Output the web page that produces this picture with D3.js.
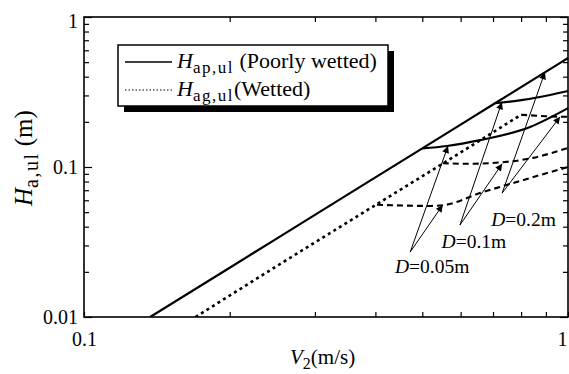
<!DOCTYPE html>
<html><head><meta charset="utf-8">
<script src="https://cdn.jsdelivr.net/npm/d3@7"></script>
<style>
body{margin:0;background:#fff;}
svg{display:block;}
text{font-family:"Liberation Serif","Times New Roman",serif;fill:#000;}
</style></head>
<body>
<svg id="chart" width="569" height="374"></svg>
<script>
// ---- data ----
const xTickValues = [0.1, 1];
const xTickLabels = ["0.1", "1"];
const yTickValues = [0.01, 0.1, 1];
const yTickLabels = ["0.01", "0.1", "1"];

// H_ap,ul main (poorly wetted)
const V_poor = [0.137, 0.2, 0.3, 0.5, 0.7, 1.0];
const H_poor = [0.01, 0.0213, 0.048, 0.133, 0.261, 0.533];
// H_ag,ul main (wetted)
const V_wet = [0.17, 0.25, 0.4, 0.55, 0.8];
const H_wet = [0.01, 0.0218, 0.0557, 0.105, 0.223];
// poorly wetted branches
const V_p005 = [0.5, 0.562, 0.658, 0.835, 1.0];
const H_p005 = [0.133, 0.138, 0.151, 0.185, 0.247];
const V_p01 = [0.706, 0.807, 0.918, 1.0];
const H_p01 = [0.266, 0.28, 0.302, 0.321];
// wetted branches
const V_w005 = [0.403, 0.52, 0.56, 0.658, 0.81, 1.0];
const H_w005 = [0.056, 0.055, 0.056, 0.067, 0.082, 0.1];
const V_w01 = [0.551, 0.62, 0.687, 0.846, 1.0];
const H_w01 = [0.106, 0.105, 0.106, 0.115, 0.134];
const V_w02 = [0.8, 0.9, 1.0];
const H_w02 = [0.223, 0.218, 0.216];

// annotations
const annLabels = ["0.05m", "0.1m", "0.2m"];
const annV = [0.439, 0.548, 0.694];
const annH = [0.0197, 0.0288, 0.0404];
const arrFromV = [0.472, 0.598, 0.731];
const arrFromH = [0.0271, 0.041, 0.067];
const arrToV1 = [0.565, 0.73, 0.896];
const arrToH1 = [0.138, 0.27, 0.428];
const arrToV2 = [0.551, 0.731, 0.963];
const arrToH2 = [0.0558, 0.105, 0.216];

// ---- drawing ----
const svg = d3.select("#chart");
const L = 84, R = 568, T = 17, B = 317;
const x = d3.scaleLog().domain([0.1, 1]).range([L, R]);
const y = d3.scaleLog().domain([0.01, 1]).range([B, T]);

const minorX = d3.range(2, 10).map(k => k / 10);
const minorY = [].concat(d3.range(2, 10).map(k => k / 100), d3.range(2, 10).map(k => k / 10));
const majorLen = 8, minorLen = 5;

function styleAxis(g) {
  g.select(".domain").remove();
  g.selectAll(".tick line").attr("stroke", "#000").attr("stroke-width", 1.2);
}
// bottom
const gb = svg.append("g").attr("transform", `translate(0,${B})`)
  .call(d3.axisBottom(x).tickValues(xTickValues.concat(minorX)).tickSizeOuter(0).tickSizeInner(-minorLen).tickPadding(15)
    .tickFormat(d => { const i = xTickValues.indexOf(d); return i >= 0 ? xTickLabels[i] : ""; }));
styleAxis(gb);
gb.selectAll(".tick text").attr("font-size", 20).attr("font-family", "Liberation Serif");
gb.selectAll(".tick").filter(d => d === 1).select("text").attr("text-anchor", "end").attr("dx", -1);
// top
const gt = svg.append("g").attr("transform", `translate(0,${T})`)
  .call(d3.axisTop(x).tickValues(minorX).tickSizeOuter(0).tickSizeInner(-minorLen).tickFormat(""));
styleAxis(gt);
// left
const gl = svg.append("g").attr("transform", `translate(${L},0)`)
  .call(d3.axisLeft(y).tickValues(yTickValues.concat(minorY)).tickSizeOuter(0).tickSizeInner(-minorLen).tickPadding(6)
    .tickFormat(d => { const i = yTickValues.indexOf(d); return i >= 0 ? yTickLabels[i] : ""; }));
styleAxis(gl);
gl.selectAll(".tick").filter(d => yTickValues.includes(d)).select("line").attr("x2", majorLen);
gl.selectAll(".tick text").attr("font-size", 20).attr("font-family", "Liberation Serif");
gl.selectAll(".tick").filter(d => d === 1).select("text").attr("dy", "0.5em");
// right
const gr = svg.append("g").attr("transform", `translate(${R},0)`)
  .call(d3.axisRight(y).tickValues(yTickValues.concat(minorY)).tickSizeOuter(0).tickSizeInner(-minorLen).tickFormat(""));
styleAxis(gr);
gr.selectAll(".tick").filter(d => yTickValues.includes(d)).select("line").attr("x2", -majorLen);

// frame
svg.append("rect").attr("x", L).attr("y", T).attr("width", R - L).attr("height", B - T)
  .attr("fill", "none").attr("stroke", "#000").attr("stroke-width", 1.6);

// clip
svg.append("clipPath").attr("id", "clip").append("rect")
  .attr("x", L).attr("y", T).attr("width", R - L + 1).attr("height", B - T);

const line = d3.line().x(d => x(d[0])).y(d => y(d[1])).curve(d3.curveMonotoneX);
const zip = (a, b) => a.map((v, i) => [v, b[i]]);
const plot = svg.append("g").attr("clip-path", "url(#clip)");

const solid = {dash: null, w: 2.2};
const dotted = {dash: "3,3.5", w: 2.6};
const dashed = {dash: "6,4", w: 2.1};
[[V_poor, H_poor, solid], [V_p005, H_p005, solid], [V_p01, H_p01, solid],
 [V_wet, H_wet, dotted], [V_w005, H_w005, dashed], [V_w01, H_w01, dashed], [V_w02, H_w02, dashed]]
.forEach(([vs, hs, st]) => {
  plot.append("path").datum(zip(vs, hs)).attr("d", line)
    .attr("fill", "none").attr("stroke", "#000").attr("stroke-width", st.w)
    .attr("stroke-dasharray", st.dash);
});

// arrows
const defs = svg.append("defs");
defs.append("marker").attr("id", "arr").attr("viewBox", "0 0 10 10").attr("refX", 10).attr("refY", 5)
  .attr("markerWidth", 9).attr("markerHeight", 7).attr("markerUnits", "userSpaceOnUse").attr("orient", "auto")
  .append("path").attr("d", "M0,0 L10,5 L0,10 Z").attr("fill", "#000");
annLabels.forEach((lab, i) => {
  [[arrToV1[i], arrToH1[i]], [arrToV2[i], arrToH2[i]]].forEach(t => {
    svg.append("line").attr("x1", x(arrFromV[i])).attr("y1", y(arrFromH[i]))
      .attr("x2", x(t[0])).attr("y2", y(t[1])).attr("stroke", "#000").attr("stroke-width", 1)
      .attr("marker-end", "url(#arr)");
  });
  const t = svg.append("text").attr("x", x(annV[i])).attr("y", y(annH[i])).attr("font-size", 19.5);
  t.append("tspan").attr("font-style", "italic").text("D");
  t.append("tspan").text("=" + lab);
});

// legend
const lg = svg.append("g");
lg.append("rect").attr("x", 124).attr("y", 51).attr("width", 270).attr("height", 61).attr("fill", "#000");
lg.append("rect").attr("x", 118).attr("y", 45).attr("width", 270).attr("height", 61)
  .attr("fill", "#fff").attr("stroke", "#000").attr("stroke-width", 1.5);
lg.append("line").attr("x1", 125).attr("x2", 172).attr("y1", 62).attr("y2", 62).attr("stroke", "#000").attr("stroke-width", 1.6);
lg.append("line").attr("x1", 125).attr("x2", 172).attr("y1", 90).attr("y2", 90).attr("stroke", "#000").attr("stroke-width", 1.2).attr("stroke-dasharray", "1.5,2");
function subLabel(g, xx, yy, main, sub, rest, fs, subfs, ls) {
  const t = g.append("text").attr("x", xx).attr("y", yy).attr("font-size", fs);
  t.append("tspan").attr("font-style", "italic").text(main);
  t.append("tspan").attr("font-size", subfs).attr("letter-spacing", ls).attr("dy", fs * 0.22).text(sub);
  t.append("tspan").attr("dy", -fs * 0.22).text(rest);
  return t;
}
subLabel(lg, 177, 68, "H", "ap,ul", " (Poorly wetted)", 22, 17, 1.5);
subLabel(lg, 177, 96, "H", "ag,ul", "(Wetted)", 22, 17, 1.5);

// axis titles
subLabel(svg, 290, 364, "V", "2", "(m/s)", 21, 16, 0);
const yt = svg.append("g").attr("transform", "translate(32,206) rotate(-90)");
subLabel(yt, 0, 0, "H", "a,ul", " (m)", 25, 20, 1.5);
</script>
</body></html>
